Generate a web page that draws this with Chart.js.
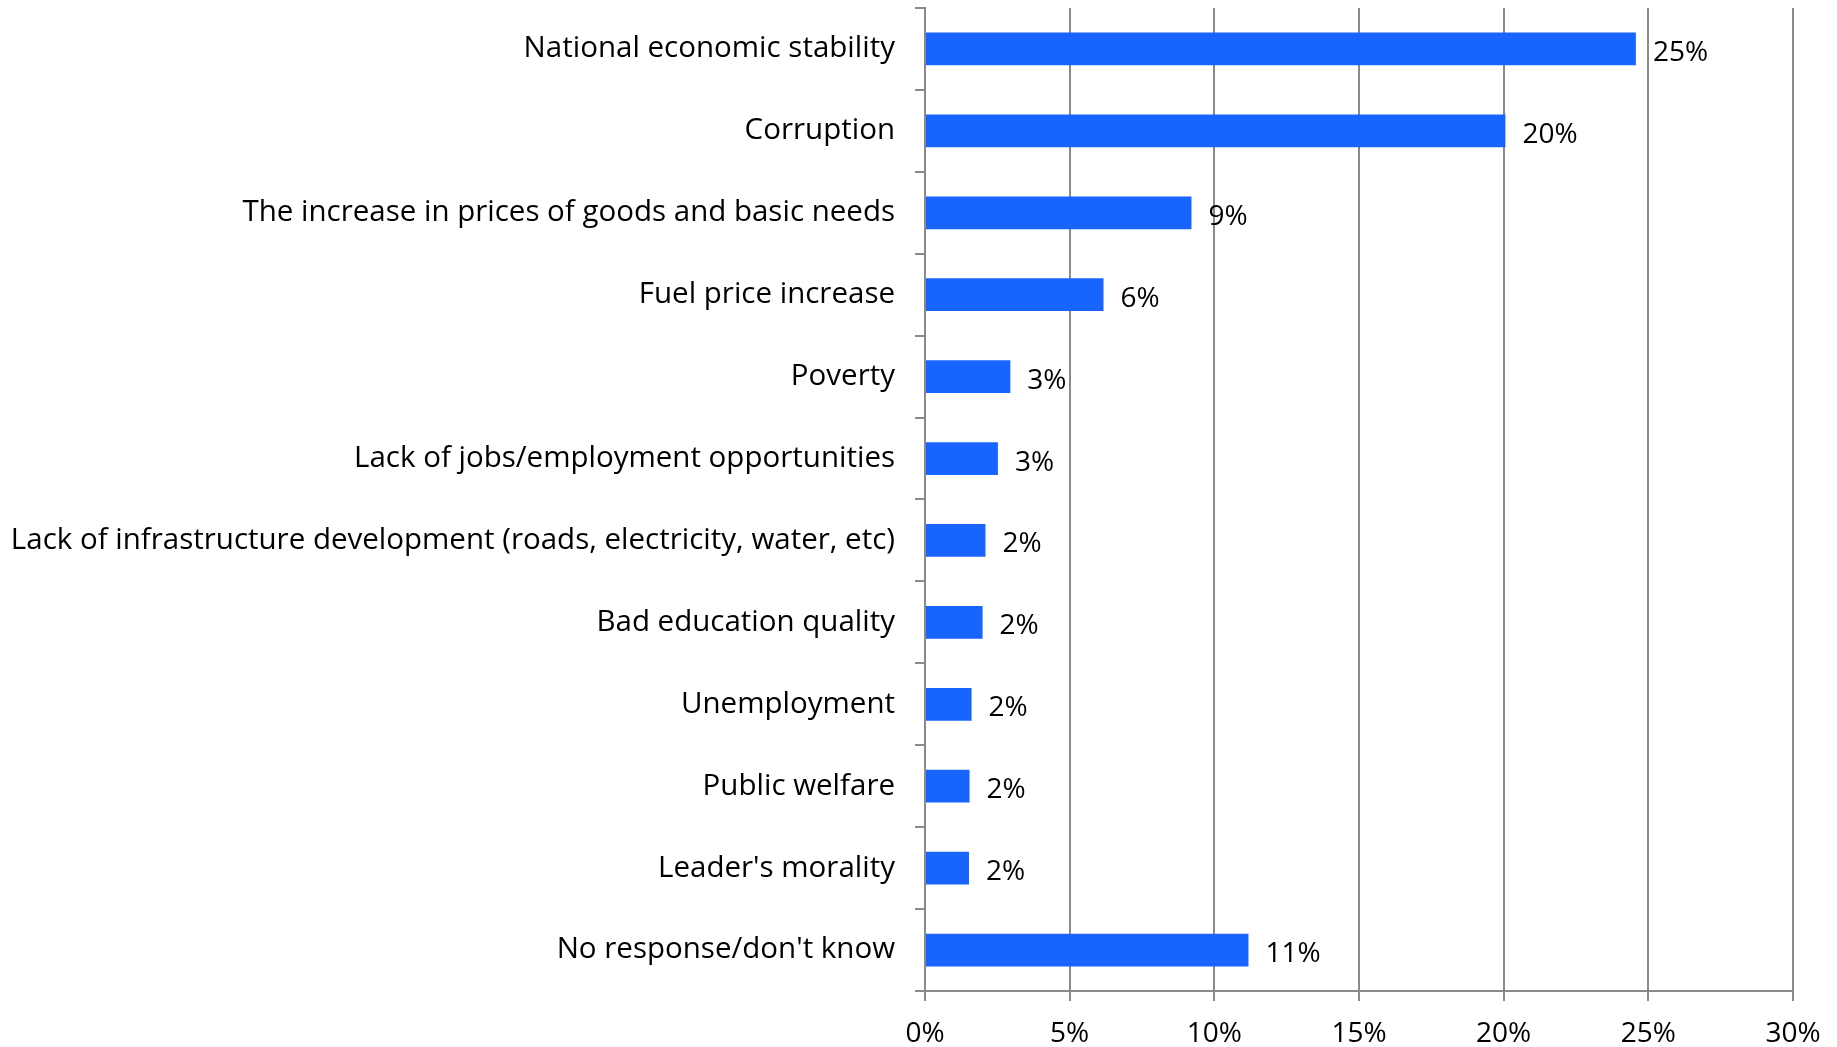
<!DOCTYPE html>
<html>
<head>
<meta charset="utf-8">
<script src="https://cdn.jsdelivr.net/npm/chart.js@4"></script>
<style>
  html, body { margin: 0; padding: 0; background: #fff; }
  #wrap { width: 1837px; height: 1047px; }
</style>
</head>
<body>
<div id="wrap"><canvas id="grafico"></canvas></div>
<script>
  // categorias e valores (%)
  const categorias = [
    "National economic stability",
    "Corruption",
    "The increase in prices of goods and basic needs",
    "Fuel price increase",
    "Poverty",
    "Lack of jobs/employment opportunities",
    "Lack of infrastructure development (roads, electricity, water, etc)",
    "Bad education quality",
    "Unemployment",
    "Public welfare",
    "Leader's morality",
    "No response/don't know"
  ];
  const valores = [24.57, 20.06, 9.21, 6.17, 2.95, 2.52, 2.09, 1.99, 1.61, 1.54, 1.52, 11.18];
  const rotulos = ["25%", "20%", "9%", "6%", "3%", "3%", "2%", "2%", "2%", "2%", "2%", "11%"];
  const ticksX = [0, 5, 10, 15, 20, 25, 30];

  const fonte = "Open Sans";
  const corGrade = "#8a8a8a";

  // rótulos à direita das barras
  const rotulosPlugin = {
    id: "rotulos",
    afterDatasetsDraw(chart) {
      const ctx = chart.ctx;
      const meta = chart.getDatasetMeta(0);
      ctx.save();
      ctx.font = "28px " + fonte;
      ctx.fillStyle = "#000";
      ctx.textAlign = "left";
      ctx.textBaseline = "middle";
      meta.data.forEach((bar, i) => {
        ctx.fillText(rotulos[i], bar.x + 17, bar.y + 4);
      });
      ctx.restore();
    }
  };

  new Chart(document.getElementById("grafico"), {
    type: "bar",
    data: {
      labels: categorias,
      datasets: [{
        data: valores,
        backgroundColor: "#1764fe",
        borderWidth: 0,
        barPercentage: 0.8,
        categoryPercentage: 0.5
      }]
    },
    options: {
      indexAxis: "y",
      responsive: true,
      maintainAspectRatio: false,
      animation: false,
      layout: { padding: { top: 8, right: 44, left: 0, bottom: 0 } },
      plugins: {
        legend: { display: false },
        tooltip: { enabled: false }
      },
      scales: {
        x: {
          min: 0,
          max: 30,
          afterBuildTicks: (scale) => { scale.ticks = ticksX.map(v => ({ value: v })); },
          afterFit: (scale) => { scale.height = 56; scale.paddingLeft = 0; scale.paddingRight = 0; },
          ticks: {
            callback: (v) => v + "%",
            color: "#000",
            font: { family: fonte, size: 28 },
            padding: 16
          },
          grid: { color: corGrade, lineWidth: 2, tickLength: 10, drawTicks: true },
          border: { color: corGrade, width: 2 }
        },
        y: {
          afterFit: (scale) => { scale.width = 925; scale.paddingTop = 0; scale.paddingBottom = 0; },
          ticks: {
            color: "#000",
            font: { family: fonte, size: 29.5 },
            padding: 20
          },
          grid: { offset: true, drawOnChartArea: false, color: corGrade, lineWidth: 2, tickLength: 10 },
          border: { color: corGrade, width: 2 }
        }
      }
    },
    plugins: [rotulosPlugin]
  });
</script>
</body>
</html>
